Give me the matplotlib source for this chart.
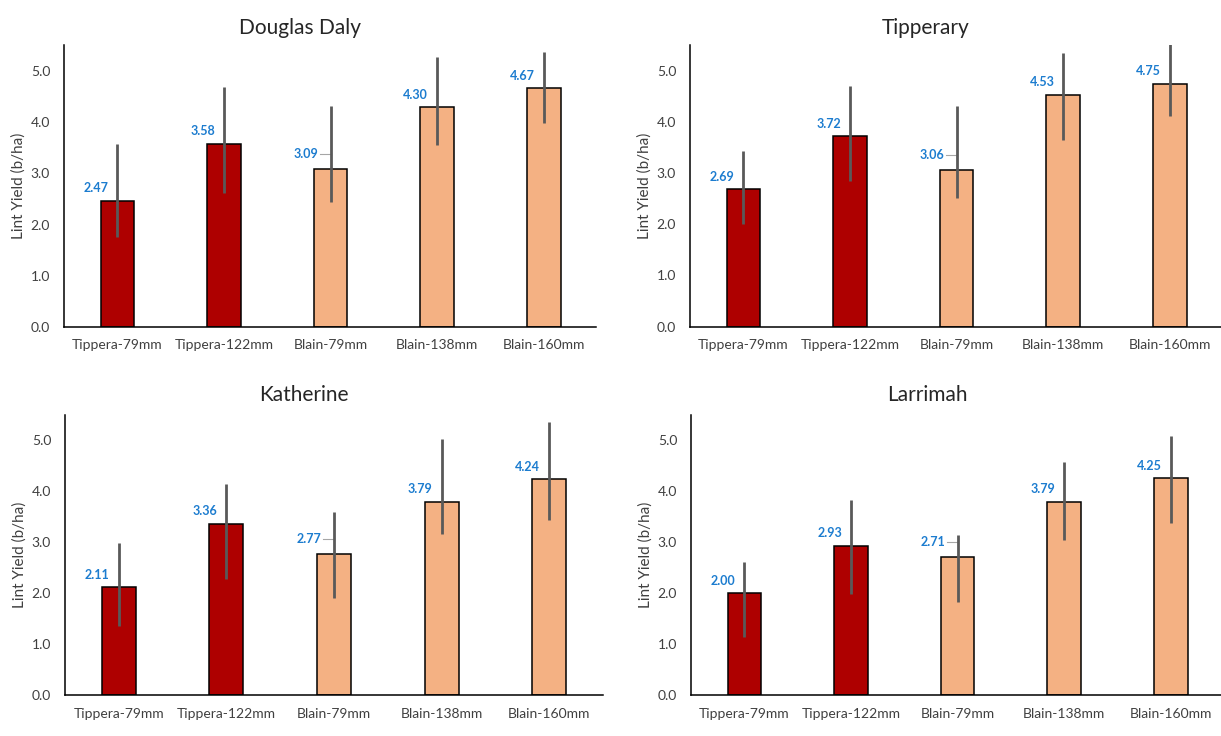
import numpy as np
import matplotlib
matplotlib.use("Agg")
import matplotlib.pyplot as plt

plt.rcParams['font.family'] = ['Lato', 'DejaVu Sans']

# Lint yield by variety/row spacing at each site
categories = ['Tippera-79mm', 'Tippera-122mm', 'Blain-79mm', 'Blain-138mm', 'Blain-160mm']
sites = ['Douglas Daly', 'Tipperary', 'Katherine', 'Larrimah']

yield_douglas = [2.47, 3.58, 3.09, 4.30, 4.67]
low_douglas = [1.76, 2.61, 2.44, 3.56, 3.98]
high_douglas = [3.57, 4.69, 4.32, 5.28, 5.38]

yield_tipperary = [2.69, 3.72, 3.06, 4.53, 4.75]
low_tipperary = [2.01, 2.84, 2.51, 3.65, 4.12]
high_tipperary = [3.44, 4.71, 4.32, 5.35, 5.55]

yield_katherine = [2.11, 3.36, 2.77, 3.79, 4.24]
low_katherine = [1.36, 2.27, 1.90, 3.15, 3.43]
high_katherine = [2.99, 4.13, 3.59, 5.01, 5.36]

yield_larrimah = [2.00, 2.93, 2.71, 3.79, 4.25]
low_larrimah = [1.14, 1.99, 1.83, 3.04, 3.37]
high_larrimah = [2.61, 3.82, 3.14, 4.57, 5.08]

site_data = [
    (yield_douglas, low_douglas, high_douglas),
    (yield_tipperary, low_tipperary, high_tipperary),
    (yield_katherine, low_katherine, high_katherine),
    (yield_larrimah, low_larrimah, high_larrimah),
]

TIPPERA = '#AE0000'
BLAIN = '#F4B183'
bar_colors = [TIPPERA, TIPPERA, BLAIN, BLAIN, BLAIN]
LABEL_BLUE = '#1C7CCF'
TEXT = '#404040'

W, H = 1221, 736
fig = plt.figure(figsize=(W / 100, H / 100), dpi=100)
fig.patch.set_facecolor('white')

# panel boxes in pixels: left, right, baseline (y=0), px per unit, right xlim
panels = [
    (64, 596, 327.0, 51.2, 4.49),
    (690, 1221, 326.7, 51.2, 4.48),
    (65, 603, 695.0, 51.0, 4.50),
    (691, 1221, 695.0, 51.0, 4.47),
]
title_pos = [(300, 28), (926, 28), (304, 395), (927, 395)]

x = np.arange(len(categories))
for i, (site, (vals, lo, hi)) in enumerate(zip(sites, site_data)):
    left, right, base, ppu, xr = panels[i]
    top = base - 5.5 * ppu
    ax = fig.add_axes([left / W, (H - base) / H, (right - left) / W, (base - top) / H])

    vals = np.array(vals)
    lo = np.array(lo)
    hi = np.array(hi)

    ax.bar(x, vals, width=0.315, color=bar_colors, edgecolor='black',
           linewidth=1.1, zorder=2)
    ax.errorbar(x, vals, yerr=[vals - lo, hi - vals], fmt='none',
                ecolor='#595959', elinewidth=2.0, capsize=0, zorder=3)

    for j, v in enumerate(vals):
        if categories[j] == 'Blain-79mm':
            # label nudged left with a short leader line to the bar
            ly = v + 0.29
            ax.text(x[j] - 0.235, ly, f'{v:.2f}', ha='center', va='center',
                    color=LABEL_BLUE, fontsize=9, fontweight='bold', zorder=4)
            ax.plot([x[j] - 0.10, x[j]], [ly, ly], color='#A6A6A6',
                    linewidth=0.8, zorder=2.5)
        else:
            ax.text(x[j] - 0.2, v + 0.24, f'{v:.2f}', ha='center', va='center',
                    color=LABEL_BLUE, fontsize=9, fontweight='bold', zorder=4)

    ax.set_xlim(-0.5, xr)
    ax.set_ylim(0, 5.5)
    ax.set_yticks(np.arange(0, 5.01, 1.0))
    ax.set_yticklabels([f'{t:.1f}' for t in np.arange(0, 5.01, 1.0)])
    ax.set_xticks(x)
    ax.set_xticklabels(categories)
    ax.tick_params(axis='both', length=0, colors=TEXT, labelsize=10)
    ax.tick_params(axis='y', pad=10)
    ax.tick_params(axis='x', pad=9)

    for side in ['top', 'right']:
        ax.spines[side].set_visible(False)
    for side in ['left', 'bottom']:
        ax.spines[side].set_color('black')
        ax.spines[side].set_linewidth(1.1)

    ax.set_ylabel('Lint Yield (b/ha)', fontsize=11, color=TEXT)
    ax.yaxis.set_label_coords(-38 / (right - left), 0.5)

    tx, ty = title_pos[i]
    fig.text(tx / W, 1 - ty / H, site, ha='center', va='center',
             fontsize=15, color='#262626')

fig.savefig('out.png', dpi=100, facecolor='white')
